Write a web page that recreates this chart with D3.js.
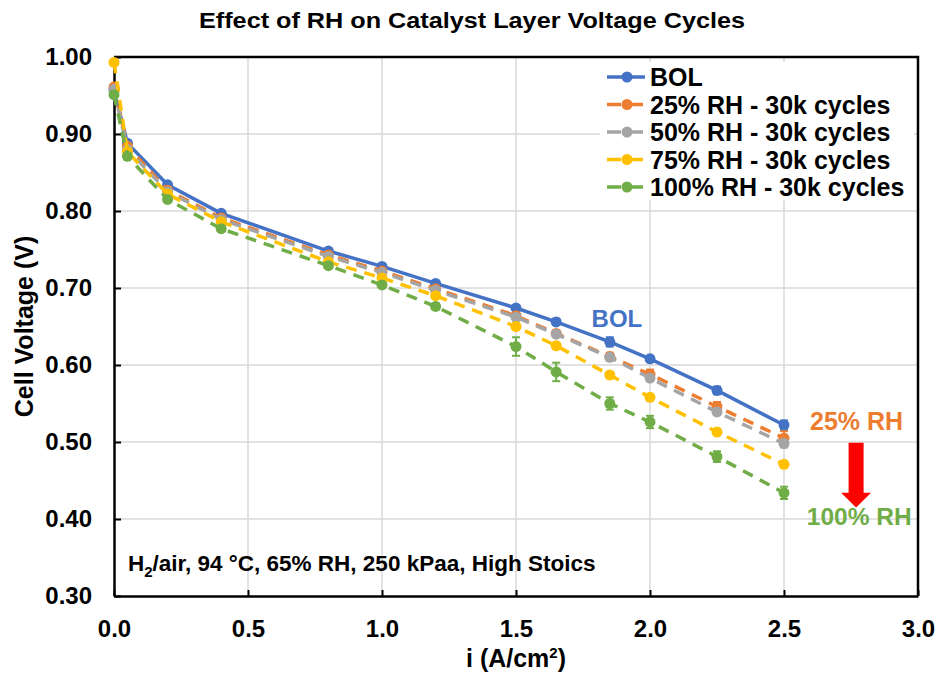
<!DOCTYPE html>
<html lang="en">
<head>
<meta charset="UTF-8">
<title>Effect of RH on Catalyst Layer Voltage Cycles</title>
<style>
    body { margin: 0; background: #fff; }
    svg { font-family: Arial, "Liberation Sans", sans-serif; font-weight: bold; }
</style>
</head>
<body>
<div id="chart"></div>
<script src="https://d3js.org/d3.v7.min.js"></script>
<script>
    // current density points (A/cm2)
    var currents = [0, 0.05, 0.2, 0.4, 0.8, 1.0, 1.2, 1.5, 1.65, 1.85, 2.0, 2.25, 2.5];

    // cell voltages (V)
    var bolV   = [0.957, 0.888, 0.834, 0.797, 0.748, 0.728, 0.706, 0.674, 0.656, 0.630, 0.608, 0.567, 0.522];
    var rh25V  = [0.961, 0.884, 0.827, 0.791, 0.743, 0.722, 0.699, 0.664, 0.641, 0.611, 0.588, 0.546, 0.505];
    var rh50V  = [0.958, 0.880, 0.825, 0.789, 0.741, 0.720, 0.697, 0.662, 0.640, 0.610, 0.583, 0.539, 0.498];
    var rh75V  = [0.993, 0.877, 0.822, 0.786, 0.734, 0.713, 0.690, 0.650, 0.625, 0.587, 0.558, 0.513, 0.471];
    var rh100V = [0.951, 0.871, 0.815, 0.777, 0.729, 0.704, 0.676, 0.624, 0.591, 0.550, 0.526, 0.481, 0.434];

    // error bar half widths (V)
    var bolErr   = [0.003, 0.003, 0.003, 0.003, 0.003, 0.003, 0.003, 0.004, 0.004, 0.006, 0.004, 0.005, 0.006];
    var rh25Err  = [0.003, 0.003, 0.003, 0.003, 0.003, 0.003, 0.003, 0.004, 0.004, 0.005, 0.006, 0.006, 0.009];
    var rh50Err  = [0.003, 0.003, 0.003, 0.003, 0.003, 0.003, 0.003, 0.003, 0.003, 0.003, 0.004, 0.004, 0.005];
    var rh75Err  = [0.003, 0.003, 0.003, 0.003, 0.003, 0.003, 0.003, 0.003, 0.003, 0.003, 0.003, 0.003, 0.003];
    var rh100Err = [0.003, 0.003, 0.003, 0.003, 0.003, 0.003, 0.004, 0.012, 0.012, 0.008, 0.008, 0.007, 0.008];

    var seriesNames  = ["BOL", "25% RH - 30k cycles", "50% RH - 30k cycles", "75% RH - 30k cycles", "100% RH - 30k cycles"];
    var seriesColors = ["#4472C4", "#ED7D31", "#A5A5A5", "#FFC000", "#70AD47"];
    var seriesValues = [bolV, rh25V, rh50V, rh75V, rh100V];
    var seriesErrors = [bolErr, rh25Err, rh50Err, rh75Err, rh100Err];

    var xTicks = [0, 0.5, 1.0, 1.5, 2.0, 2.5, 3.0];
    var yTicks = [0.30, 0.40, 0.50, 0.60, 0.70, 0.80, 0.90, 1.00];

    var W = 939, H = 675;
    var margin = {top: 57, right: 21, bottom: 79, left: 114};
    var width = W - margin.left - margin.right,
        height = H - margin.top - margin.bottom;

    var svg = d3.select("#chart").append("svg")
        .attr("width", W)
        .attr("height", H);

    var g = svg.append("g")
        .attr("transform", "translate(" + margin.left + "," + margin.top + ")");

    var x = d3.scaleLinear().domain([0, 3]).range([0, width]);
    var y = d3.scaleLinear().domain([0.3, 1.0]).range([height, 0]);

    // gridlines
    g.append("g").selectAll("line.gx")
        .data(xTicks.slice(1, -1))
        .join("line")
        .attr("x1", d => x(d)).attr("x2", d => x(d))
        .attr("y1", 0).attr("y2", height)
        .attr("stroke", "#d9d9d9").attr("stroke-width", 1.5);

    g.append("g").selectAll("line.gy")
        .data(yTicks.slice(1, -1))
        .join("line")
        .attr("x1", 0).attr("x2", width)
        .attr("y1", d => y(d)).attr("y2", d => y(d))
        .attr("stroke", "#d9d9d9").attr("stroke-width", 1.5);

    // axes (ticks inside)
    var xAxis = g.append("g")
        .attr("transform", "translate(0," + height + ")")
        .call(d3.axisBottom(x).tickValues(xTicks).tickFormat(d3.format(".1f")).tickSizeInner(-6).tickSizeOuter(0).tickPadding(24));
    var yAxis = g.append("g")
        .call(d3.axisLeft(y).tickValues(yTicks).tickFormat(d3.format(".2f")).tickSizeInner(-7).tickSizeOuter(0).tickPadding(22));

    [xAxis, yAxis].forEach(function(a) {
        a.select(".domain").attr("stroke", "#000").attr("stroke-width", 2.5);
        a.selectAll(".tick line").attr("stroke", "#000").attr("stroke-width", 2);
        a.selectAll(".tick text")
            .attr("fill", "#000")
            .style("font-size", "24px")
            .style("font-weight", "bold")
            .style("font-family", "Arial, 'Liberation Sans', sans-serif");
    });

    // top and right frame
    g.append("path")
        .attr("d", "M0,0H" + width + "V" + height)
        .attr("fill", "none").attr("stroke", "#000").attr("stroke-width", 2.5);

    // series
    var line = d3.line()
        .x(d => x(d.i))
        .y(d => y(d.v));

    seriesValues.forEach(function(vals, k) {
        var pts = currents.map(function(c, j) { return {i: c, v: vals[j], e: seriesErrors[k][j]}; });
        var color = seriesColors[k];
        var sg = g.append("g");

        sg.append("path")
            .datum(pts)
            .attr("d", line)
            .attr("fill", "none")
            .attr("stroke", color)
            .attr("stroke-width", 3.5)
            .attr("stroke-dasharray", k === 0 ? null : "11,8");

        var eb = sg.selectAll("g.err")
            .data(pts)
            .join("g");
        eb.append("line")
            .attr("x1", d => x(d.i)).attr("x2", d => x(d.i))
            .attr("y1", d => y(d.v - d.e)).attr("y2", d => y(d.v + d.e))
            .attr("stroke", color).attr("stroke-width", 2);
        eb.selectAll("line.cap")
            .data(d => [d.v - d.e, d.v + d.e].map(v => ({i: d.i, v: v})))
            .join("line")
            .attr("x1", d => x(d.i) - 4).attr("x2", d => x(d.i) + 4)
            .attr("y1", d => y(d.v)).attr("y2", d => y(d.v))
            .attr("stroke", color).attr("stroke-width", 2);

        sg.selectAll("circle")
            .data(pts)
            .join("circle")
            .attr("cx", d => x(d.i))
            .attr("cy", d => y(d.v))
            .attr("r", 5.5)
            .attr("fill", color);
    });

    // legend
    var legend = svg.append("g").attr("transform", "translate(600,62)");
    legend.append("rect")
        .attr("width", 314).attr("height", 138)
        .attr("fill", "#fff");
    seriesNames.forEach(function(name, k) {
        var row = legend.append("g").attr("transform", "translate(0," + (15 + k * 27.5) + ")");
        row.append("line")
            .attr("x1", 7).attr("x2", 45)
            .attr("stroke", seriesColors[k])
            .attr("stroke-width", 3.5)
            .attr("stroke-dasharray", k === 0 ? null : "14,8");
        row.append("circle")
            .attr("cx", 27).attr("r", 5.5)
            .attr("fill", seriesColors[k]);
        row.append("text")
            .attr("x", 50).attr("dy", "0.36em")
            .style("font-size", "25px")
            .attr("fill", "#000")
            .text(name);
    });

    // title
    svg.append("text")
        .attr("x", 472).attr("y", 28)
        .attr("text-anchor", "middle")
        .attr("textLength", 546)
        .attr("lengthAdjust", "spacingAndGlyphs")
        .style("font-size", "22px")
        .attr("fill", "#000")
        .text("Effect of RH on Catalyst Layer Voltage Cycles");

    // axis titles
    var xt = svg.append("text")
        .attr("x", margin.left + width / 2).attr("y", 667)
        .attr("text-anchor", "middle")
        .style("font-size", "25px")
        .attr("fill", "#000");
    xt.append("tspan").text("i (A/cm");
    xt.append("tspan").attr("dy", -9).style("font-size", "15px").text("2");
    xt.append("tspan").attr("dy", 9).text(")");

    svg.append("text")
        .attr("transform", "translate(33," + (margin.top + height / 2) + ") rotate(-90)")
        .attr("text-anchor", "middle")
        .style("font-size", "25px")
        .attr("fill", "#000")
        .text("Cell Voltage (V)");

    // conditions note
    var note = g.append("text")
        .attr("x", x(0.052)).attr("y", y(0.332))
        .style("font-size", "22.5px")
        .attr("fill", "#000");
    note.append("tspan").text("H");
    note.append("tspan").attr("dy", 6).style("font-size", "15px").text("2");
    note.append("tspan").attr("dy", -6).text("/air, 94 \u00B0C, 65% RH, 250 kPaa, High Stoics");

    // annotations
    g.append("text")
        .attr("x", x(1.782)).attr("y", y(0.65))
        .style("font-size", "24px")
        .attr("fill", "#4472C4")
        .text("BOL");
    g.append("text")
        .attr("x", x(2.597)).attr("y", y(0.515))
        .style("font-size", "25px")
        .attr("fill", "#ED7D31")
        .text("25% RH");
    g.append("text")
        .attr("x", x(2.585)).attr("y", y(0.392))
        .style("font-size", "24.5px")
        .attr("fill", "#70AD47")
        .text("100% RH");

    // red arrow from 25% RH down to 100% RH
    var ax = x(2.769), shaftTop = y(0.499), headTop = y(0.434), tip = y(0.415);
    g.append("path")
        .attr("d", "M" + (ax - 7.5) + "," + shaftTop +
                   "H" + (ax + 7.5) + "V" + headTop +
                   "H" + (ax + 15) + "L" + ax + "," + tip +
                   "L" + (ax - 15) + "," + headTop +
                   "H" + (ax - 7.5) + "Z")
        .attr("fill", "#FF0000");
</script>
</body>
</html>
